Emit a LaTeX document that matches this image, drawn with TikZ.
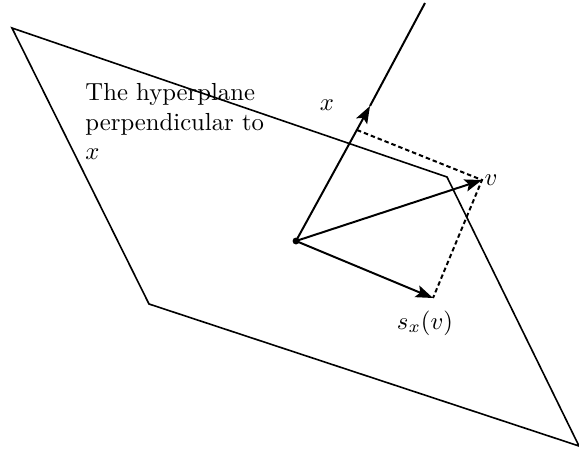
\documentclass[tikz,border=0pt]{standalone}
\usetikzlibrary{arrows.meta}
\begin{document}
\begin{tikzpicture}[x=0.405pt,y=-0.405pt,
  plane/.style={line width=0.65pt, line join=miter},
  vec/.style={line width=0.8pt, -{Stealth[length=7pt,width=5pt,inset=1.4pt]}},
  vline/.style={line width=0.8pt},
  dashline/.style={line width=0.8pt, dash pattern=on 1.8pt off 1.2pt},
  lbl/.style={inner sep=0pt}]
\useasboundingbox (0,0) rectangle (579,459);
% plane
\coordinate (A) at (12,28);
\coordinate (B) at (447,177);
\coordinate (C) at (579,446);
\coordinate (D) at (149,304);
\draw[plane] (A) -- (B) -- (C) -- (D) -- cycle;
% vectors
\coordinate (o) at (296,241);
\coordinate (xt) at (370,106);
\coordinate (xend) at (425,3);
\coordinate (v) at (482,180);
\coordinate (s) at (433,298);
\coordinate (foot) at (357,130);
\draw[vline] (xt) -- (xend);
\draw[vec] (o) -- (xt);
\draw[vec] (o) -- (v);
\draw[vec] (o) -- (s);
\draw[dashline] (foot) -- (v) -- (s);
\fill (o) circle (1.4pt);
% labels
\node[lbl] (lx) at (327,105) {$x$};
\node[lbl] (lv) at (491,180) {$v$};
\node[lbl] (ls) at (425,323) {$s_x(v)$};
\node[lbl, anchor=north west, align=left] (txt) at (85,83)
  {The hyperplane\\perpendicular to\\$x$};
\end{tikzpicture}
\end{document}
